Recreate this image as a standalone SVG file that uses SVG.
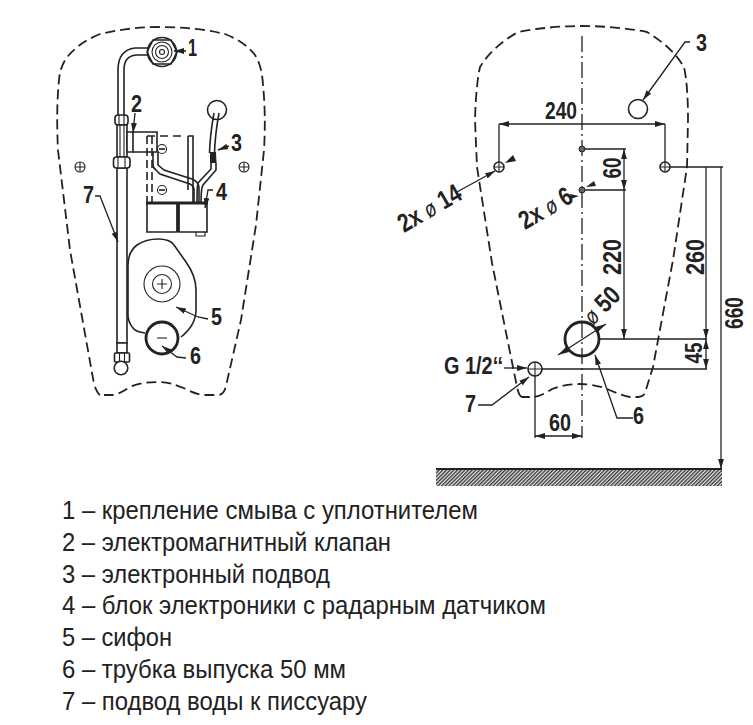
<svg xmlns="http://www.w3.org/2000/svg" width="753" height="725" viewBox="0 0 753 725">
<style>
.o{fill:none;stroke:#222;stroke-width:1.8;stroke-dasharray:10 5}
.l{fill:none;stroke:#222;stroke-width:1.1}
.m{fill:none;stroke:#222;stroke-width:1.6}
.h{fill:none;stroke:#222;stroke-width:2.8}
.w{fill:#fff;stroke:#222;stroke-width:1.6}
.d{fill:none;stroke:#222;stroke-width:1.3}
.a{marker-end:url(#ar)}
.b{marker-start:url(#ar);marker-end:url(#ar)}
text{font-family:"Liberation Sans Narrow","Liberation Sans",Arial,sans-serif;fill:#222}
.n{font-size:23px;font-weight:700}
.r{font-size:26px;font-weight:700}
.t{font-size:25px}
.p{font-size:23px;font-style:italic;font-weight:400}
</style>
<defs>
<marker id="ar" markerUnits="userSpaceOnUse" markerWidth="11" markerHeight="7" refX="10" refY="3.5" orient="auto-start-reverse"><path d="M0,0.6L10,3.5L0,6.4z" fill="#222"/></marker>
<pattern id="hatch" width="2.6" height="2.6" patternUnits="userSpaceOnUse" patternTransform="rotate(45)"><rect width="2.6" height="2.6" fill="#e4e4e4"/><rect width="1.3" height="2.6" fill="#333"/></pattern>
</defs>

<g id="left-outline"><path class="o" d="M100,395Q97,393 94,384L70,250L58,150Q56,110 59,80Q60,66 68,56Q80,42 100,34Q130,27 160,27Q195,27 225,34Q245,42 255,55Q262,66 263,85Q266,115 264,150L256,225L241,320L226,386Q224,395 218,395L206,395Q196,395 186,389Q170,382 160,382Q140,382 130,387Q118,395 112,395Z"/></g>

<g id="mount-1"><path class="m" d="M148,48H135Q118,50 118,70V115M148,55H136Q124,56 124,70V115"/>
<circle class="m" cx="162" cy="52" r="14.5"/><path class="m" d="M153,40H171L177,52L171,64H153L147,52Z"/><circle class="l" cx="162" cy="52" r="10"/><circle class="l" cx="162" cy="52" r="6.5"/><circle class="l" cx="162" cy="52" r="2.5"/></g>

<g id="water-pipe-7"><path class="w" d="M117,168V343H127V168Z"/><path class="w" d="M117,343H127V353H117Z"/><rect class="w" x="114.500" y="353" width="15" height="9" rx="1"/><path class="l" d="M119.500,353V362M124.500,353V362"/><circle class="w" cx="121" cy="368" r="6.800"/>
<rect class="w" x="115" y="115" width="13" height="10" rx="3"/><path class="l" d="M119,115V125M124,115V125"/><rect class="w" x="117" y="125" width="10" height="32"/><path class="l" d="M120,125V157M124,125V157"/><rect class="w" x="113.500" y="157" width="16.500" height="11" rx="3"/><path class="l" d="M118,157V168M125,157V168"/></g>

<g id="valve-2"><path class="w" d="M127,132H133V152H127Z"/><path class="m" d="M133,132H157V152H133"/></g>

<g id="electronics-4">
<path class="m" d="M147,136V203M152,136V203" stroke-dasharray="8 4"/>
<path class="m" d="M147,136H186" stroke-dasharray="8 5"/><path class="m" d="M188,136H193V203M188,136V190"/>
<circle class="l" cx="162" cy="149" r="4.500"/><path class="m" d="M159,149H165"/>
<circle class="l" cx="162" cy="190" r="4.500"/><path class="m" d="M159,190H165"/>
<path class="m" d="M147,203V232H177V203M179,203V232H207V203"/><path class="h" d="M146,203H208M178,204V232"/><path class="l" d="M196,232V236H205V232"/>
<path class="m" d="M153,152V165Q153,168 156,170L160,174L190,184Q194,186 194,190V203M158,152V165L164,170L192,179Q199,182 199,188V203"/>
</g>

<g id="sensor-3"><circle class="w" cx="217" cy="110" r="9.500"/><path class="m" d="M214,113Q210,135 209.500,153M219,113Q215,135 214.500,153"/><path d="M210,152H216L216.500,163H210Z" fill="#222"/><path class="m" d="M211,163V169L198,183Q197,186 197,203M216,163V170L203,185Q201,188 201,203"/></g>

<g id="siphon-5"><path class="m" d="M145,333Q136,332 133,328Q128,322 128,315V265Q128,252 137,245Q146,239 158,239Q170,239 174,245L186,262Q196,276 196,290V310Q196,325 181,337"/>
<circle class="l" cx="162" cy="284" r="18"/><circle class="l" cx="162" cy="284" r="9.500"/><path class="l" d="M157,284H167M162,279V289"/></g>

<g id="outlet-6"><circle class="h" cx="162" cy="338" r="16"/><path class="l" d="M157,338H167"/></g>

<circle class="l" cx="80" cy="167" r="5"/><path class="l" d="M75,167H85M80,162V172"/>
<circle class="l" cx="244" cy="167" r="5"/><path class="l" d="M239,167H249M244,162V172"/>

<g id="left-leaders">
<path class="m a" d="M186,51H174"/><path class="d a" d="M135,113L133,133"/><path class="m a" d="M229,146L218,150"/><path class="d a" d="M213,190H208L205,208"/><path class="d a" d="M95,196H100L118,242"/><path class="d a" d="M208,319L198,317L176,307"/><path class="d a" d="M186,358L177,357L162,346"/>
</g>
<g id="left-labels">
<text class="n" x="188" y="56" textLength="9" lengthAdjust="spacingAndGlyphs">1</text>
<text class="n" x="131" y="112" textLength="11" lengthAdjust="spacingAndGlyphs">2</text>
<text class="n" x="231" y="151" textLength="11" lengthAdjust="spacingAndGlyphs">3</text>
<text class="n" x="216" y="200" textLength="11" lengthAdjust="spacingAndGlyphs">4</text>
<text class="n" x="211" y="325" textLength="11" lengthAdjust="spacingAndGlyphs">5</text>
<text class="n" x="190" y="364" textLength="11" lengthAdjust="spacingAndGlyphs">6</text>
<text class="n" x="83" y="203" textLength="11" lengthAdjust="spacingAndGlyphs">7</text>
</g>

<g id="right-outline"><path class="o" d="M522,397Q519,396 517,387L492,263L477,167L475,120Q476,85 480,67Q492,47 518,32Q550,26 582,26Q615,26 647,32Q672,47 684,67Q688,85 688,120L687,167L673,260L653,367L645,393Q643,397 638,397L630,397Q620,395 605,388Q590,384 580,384Q565,384 552,389Q540,397 532,397Z"/></g>

<g id="floor"><rect x="436" y="469" width="286" height="17" fill="url(#hatch)"/><path d="M436,469H722" stroke="#222" stroke-width="2"/></g>

<g id="center-line"><path class="d" d="M582,36V438" stroke-dasharray="16 4 2 4"/></g>

<g id="holes">
<circle class="m" cx="499" cy="167" r="5"/><path class="l" d="M494,167H504M499,162V172"/>
<circle class="m" cx="665" cy="167" r="5"/><path class="l" d="M660,167H670M665,162V172"/>
<circle cx="582" cy="149" r="3" fill="#666" stroke="#222"/><circle cx="582" cy="190" r="3" fill="#666" stroke="#222"/>
<circle class="m" cx="638" cy="109" r="9.500"/>
<circle class="h" cx="582" cy="339" r="17"/>
<circle class="m" cx="535" cy="369" r="7"/><path class="l" d="M535,362V376M528,369H542"/>
</g>

<g id="dimensions">
<path class="d" d="M499,124V162M665,124V162M670,167H723M585,149H626M585,190H626M599,339H707M542,369H707M535,376V438"/>
<path class="d b" d="M499,124H665"/>
<path class="d b" d="M624,149V190"/>
<path class="d a" d="M624,190V339"/>
<path class="d a" d="M706,167V339"/>
<path class="d b" d="M706,339V369"/>
<path class="d a" d="M721,167V469"/>
<path class="d b" d="M535,436H582"/>
<path class="d a" d="M690,42H685L643,100"/>
<path class="d a" d="M457,192L495,171"/>
<path d="M505,163L513,155L516,161Z" fill="#222"/>
<path d="M570,194L579,196L571,199Z" fill="#222"/>
<path d="M586,187L594,181L596,186Z" fill="#222"/>
<path class="d" d="M558,355L606,324"/>
<path d="M558,355L566,347L569,352Z M606,324L598,332L595,327Z" fill="#222"/>
<path class="d a" d="M504,368H527"/>
<path class="d a" d="M478,405H492L529,377"/>
<path class="d a" d="M633,418H617L595,355"/>
</g>

<g id="dimension-labels">
<text class="n" x="545" y="119" textLength="32" lengthAdjust="spacingAndGlyphs">240</text>
<text class="n" x="696" y="51" textLength="11" lengthAdjust="spacingAndGlyphs">3</text>
<text class="r" transform="translate(621,168) rotate(-90)" text-anchor="middle" textLength="21" lengthAdjust="spacingAndGlyphs">60</text>
<text class="r" transform="translate(621,257) rotate(-90)" text-anchor="middle" textLength="36" lengthAdjust="spacingAndGlyphs">220</text>
<text class="r" transform="translate(704,257) rotate(-90)" text-anchor="middle" textLength="36" lengthAdjust="spacingAndGlyphs">260</text>
<text class="r" transform="translate(743,313) rotate(-90)" text-anchor="middle" textLength="32" lengthAdjust="spacingAndGlyphs">660</text>
<text class="n" transform="translate(702,353) rotate(-90)" text-anchor="middle" textLength="21" lengthAdjust="spacingAndGlyphs">45</text>
<text class="n" x="549" y="431" textLength="22" lengthAdjust="spacingAndGlyphs">60</text>
<text class="n" x="444" y="374" textLength="59" lengthAdjust="spacingAndGlyphs">G 1/2‘‘</text>
<text class="n" x="465" y="412" textLength="11" lengthAdjust="spacingAndGlyphs">7</text>
<text class="n" x="633" y="424" textLength="11" lengthAdjust="spacingAndGlyphs">6</text>
<text class="r" transform="translate(404,233) rotate(-30) scale(.8,1)">2x <tspan class="p">ø</tspan> 14</text>
<text class="r" transform="translate(525,230) rotate(-30) scale(.8,1)">2x <tspan class="p">ø</tspan> 6</text>
<text class="r" transform="translate(593,326) rotate(-45) scale(.82,1)"><tspan class="p">ø</tspan> 50</text>
</g>

<g id="legend">
<text class="t" x="62" y="519" textLength="416" lengthAdjust="spacingAndGlyphs">1 – крепление смыва с уплотнителем</text>
<text class="t" x="62" y="551" textLength="329" lengthAdjust="spacingAndGlyphs">2 – электромагнитный клапан</text>
<text class="t" x="62" y="583" textLength="268" lengthAdjust="spacingAndGlyphs">3 – электронный подвод</text>
<text class="t" x="62" y="614" textLength="484" lengthAdjust="spacingAndGlyphs">4 – блок электроники с радарным датчиком</text>
<text class="t" x="62" y="646" textLength="110" lengthAdjust="spacingAndGlyphs">5 – сифон</text>
<text class="t" x="62" y="678" textLength="284" lengthAdjust="spacingAndGlyphs">6 – трубка выпуска 50 мм</text>
<text class="t" x="62" y="710" textLength="305" lengthAdjust="spacingAndGlyphs">7 – подвод воды к писсуару</text>
</g>
</svg>
